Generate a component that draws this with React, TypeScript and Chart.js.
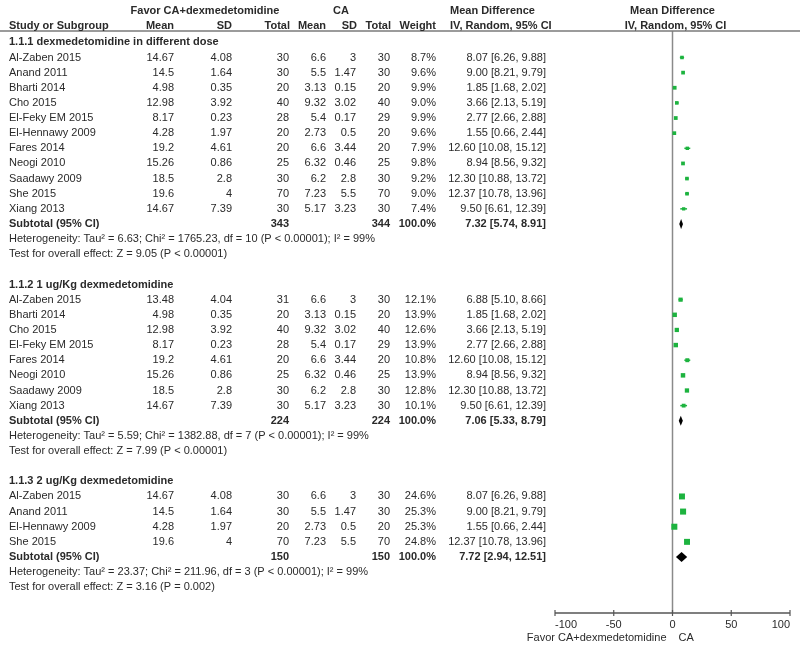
import React, { useEffect, useRef } from "react";
import { Chart, registerables } from "chart.js";

Chart.register(...registerables);

// ---------- data ----------
const groupTitles = [
  "1.1.1 dexmedetomidine in different dose",
  "1.1.2 1 ug/Kg dexmedetomidine",
  "1.1.3 2 ug/Kg dexmedetomidine",
];
const studyGroup = [0, 0, 0, 0, 0, 0, 0, 0, 0, 0, 0, 1, 1, 1, 1, 1, 1, 1, 1, 2, 2, 2, 2];
const studyNames = [
  "Al-Zaben 2015", "Anand 2011", "Bharti 2014", "Cho 2015", "El-Feky EM 2015", "El-Hennawy 2009",
  "Fares 2014", "Neogi 2010", "Saadawy 2009", "She 2015", "Xiang 2013",
  "Al-Zaben 2015", "Bharti 2014", "Cho 2015", "El-Feky EM 2015", "Fares 2014", "Neogi 2010",
  "Saadawy 2009", "Xiang 2013",
  "Al-Zaben 2015", "Anand 2011", "El-Hennawy 2009", "She 2015",
];
const expMean = [14.67, 14.5, 4.98, 12.98, 8.17, 4.28, 19.2, 15.26, 18.5, 19.6, 14.67,
  13.48, 4.98, 12.98, 8.17, 19.2, 15.26, 18.5, 14.67,
  14.67, 14.5, 4.28, 19.6];
const expSD = [4.08, 1.64, 0.35, 3.92, 0.23, 1.97, 4.61, 0.86, 2.8, 4, 7.39,
  4.04, 0.35, 3.92, 0.23, 4.61, 0.86, 2.8, 7.39,
  4.08, 1.64, 1.97, 4];
const expTotal = [30, 30, 20, 40, 28, 20, 20, 25, 30, 70, 30,
  31, 20, 40, 28, 20, 25, 30, 30,
  30, 30, 20, 70];
const ctrlMean = [6.6, 5.5, 3.13, 9.32, 5.4, 2.73, 6.6, 6.32, 6.2, 7.23, 5.17,
  6.6, 3.13, 9.32, 5.4, 6.6, 6.32, 6.2, 5.17,
  6.6, 5.5, 2.73, 7.23];
const ctrlSD = [3, 1.47, 0.15, 3.02, 0.17, 0.5, 3.44, 0.46, 2.8, 5.5, 3.23,
  3, 0.15, 3.02, 0.17, 3.44, 0.46, 2.8, 3.23,
  3, 1.47, 0.5, 5.5];
const ctrlTotal = [30, 30, 20, 40, 29, 20, 20, 25, 30, 70, 30,
  30, 20, 40, 29, 20, 25, 30, 30,
  30, 30, 20, 70];
const weights = [8.7, 9.6, 9.9, 9.0, 9.9, 9.6, 7.9, 9.8, 9.2, 9.0, 7.4,
  12.1, 13.9, 12.6, 13.9, 10.8, 13.9, 12.8, 10.1,
  24.6, 25.3, 25.3, 24.8];
const meanDiff = [8.07, 9.0, 1.85, 3.66, 2.77, 1.55, 12.6, 8.94, 12.3, 12.37, 9.5,
  6.88, 1.85, 3.66, 2.77, 12.6, 8.94, 12.3, 9.5,
  8.07, 9.0, 1.55, 12.37];
const ciLow = [6.26, 8.21, 1.68, 2.13, 2.66, 0.66, 10.08, 8.56, 10.88, 10.78, 6.61,
  5.1, 1.68, 2.13, 2.66, 10.08, 8.56, 10.88, 6.61,
  6.26, 8.21, 0.66, 10.78];
const ciHigh = [9.88, 9.79, 2.02, 5.19, 2.88, 2.44, 15.12, 9.32, 13.72, 13.96, 12.39,
  8.66, 2.02, 5.19, 2.88, 15.12, 9.32, 13.72, 12.39,
  9.88, 9.79, 2.44, 13.96];

const subExpTotal = [343, 224, 150];
const subCtrlTotal = [344, 224, 150];
const subMD = [7.32, 7.06, 7.72];
const subLow = [5.74, 5.33, 2.94];
const subHigh = [8.91, 8.79, 12.51];
const hetTau2 = ["6.63", "5.59", "23.37"];
const hetChi2 = ["1765.23", "1382.88", "211.96"];
const hetDf = [10, 7, 3];
const hetP = ["P < 0.00001", "P < 0.00001", "P < 0.00001"];
const hetI2 = [99, 99, 99];
const zValue = ["9.05", "7.99", "3.16"];
const zP = ["P < 0.00001", "P < 0.00001", "P = 0.002"];

const xTicks = [-100, -50, 0, 50, 100];
const leftLabel = "Favor CA+dexmedetomidine";
const rightLabel = "CA";

// ---------- row layout ----------
const studyRow: number[] = [];
const groupRow: number[] = [];
const subRow: number[] = [];
{
  let r = 0;
  for (let g = 0; g < groupTitles.length; g++) {
    groupRow.push(r);
    r++;
    for (let i = 0; i < studyNames.length; i++) {
      if (studyGroup[i] === g) {
        studyRow[i] = r;
        r++;
      }
    }
    subRow.push(r);
    r += 4;
  }
}

const FONT = '"Liberation Sans", Arial, sans-serif';
const TEXT = "#2a2a2a";
const GREEN = "#1db33f";

const forestPlugin = {
  id: "forest",
  beforeDatasetsDraw(chart: any) {
    const { ctx, chartArea, scales } = chart;
    const xs = scales.x;
    const ys = scales.y;
    ctx.save();
    // zero line
    const x0 = xs.getPixelForValue(0);
    ctx.strokeStyle = "#8a8a8a";
    ctx.lineWidth = 1.5;
    ctx.beginPath();
    ctx.moveTo(x0, chartArea.top);
    ctx.lineTo(x0, chartArea.bottom);
    ctx.stroke();
    // header rule
    ctx.strokeStyle = "#7a7a7a";
    ctx.beginPath();
    ctx.moveTo(0, chartArea.top);
    ctx.lineTo(chart.width, chartArea.top);
    ctx.stroke();
    // bottom axis
    const yb = chartArea.bottom;
    ctx.strokeStyle = "#555";
    ctx.lineWidth = 1.5;
    ctx.beginPath();
    ctx.moveTo(xs.getPixelForValue(xTicks[0]), yb);
    ctx.lineTo(xs.getPixelForValue(xTicks[xTicks.length - 1]), yb);
    ctx.stroke();
    ctx.lineWidth = 1.2;
    xTicks.forEach((t) => {
      const px = xs.getPixelForValue(t);
      ctx.beginPath();
      ctx.moveTo(px, yb - 3);
      ctx.lineTo(px, yb + 3);
      ctx.stroke();
    });
    // CI whiskers
    ctx.strokeStyle = GREEN;
    ctx.lineWidth = 1.5;
    for (let i = 0; i < studyNames.length; i++) {
      const y = ys.getPixelForValue(studyRow[i]);
      ctx.beginPath();
      ctx.moveTo(xs.getPixelForValue(ciLow[i]), y);
      ctx.lineTo(xs.getPixelForValue(ciHigh[i]), y);
      ctx.stroke();
    }
    ctx.restore();
  },
  afterDatasetsDraw(chart: any) {
    const { ctx, chartArea, scales } = chart;
    const xs = scales.x;
    const ys = scales.y;
    ctx.save();
    // diamonds
    ctx.fillStyle = "#000";
    for (let g = 0; g < groupTitles.length; g++) {
      const y = ys.getPixelForValue(subRow[g]);
      ctx.beginPath();
      ctx.moveTo(xs.getPixelForValue(subLow[g]), y);
      ctx.lineTo(xs.getPixelForValue(subMD[g]), y - 5);
      ctx.lineTo(xs.getPixelForValue(subHigh[g]), y);
      ctx.lineTo(xs.getPixelForValue(subMD[g]), y + 5);
      ctx.closePath();
      ctx.fill();
    }

    const normal = `11px ${FONT}`;
    const bold = `bold 11px ${FONT}`;
    ctx.fillStyle = TEXT;
    ctx.textBaseline = "middle";
    const txt = (s: string, x: number, y: number, align: CanvasTextAlign, b = false) => {
      ctx.font = b ? bold : normal;
      ctx.textAlign = align;
      ctx.fillText(s, x, y);
    };
    const x0 = xs.getPixelForValue(0);

    // headers
    const yH1 = ys.getPixelForValue(-2.07);
    const yH2 = ys.getPixelForValue(-1.1);
    txt("Favor CA+dexmedetomidine", 205, yH1, "center", true);
    txt("CA", 341, yH1, "center", true);
    txt("Mean Difference", 450, yH1, "left", true);
    txt("Mean Difference", x0, yH1, "center", true);
    txt("Study or Subgroup", 9, yH2, "left", true);
    txt("Mean", 174, yH2, "right", true);
    txt("SD", 232, yH2, "right", true);
    txt("Total", 290, yH2, "right", true);
    txt("Mean", 326, yH2, "right", true);
    txt("SD", 357, yH2, "right", true);
    txt("Total", 391, yH2, "right", true);
    txt("Weight", 436, yH2, "right", true);
    txt("IV, Random, 95% CI", 450, yH2, "left", true);
    txt("IV, Random, 95% CI", x0 + 3, yH2, "center", true);

    // studies
    for (let i = 0; i < studyNames.length; i++) {
      const y = ys.getPixelForValue(studyRow[i]);
      txt(studyNames[i], 9, y, "left");
      txt(String(expMean[i]), 174, y, "right");
      txt(String(expSD[i]), 232, y, "right");
      txt(String(expTotal[i]), 289, y, "right");
      txt(String(ctrlMean[i]), 326, y, "right");
      txt(String(ctrlSD[i]), 356, y, "right");
      txt(String(ctrlTotal[i]), 390, y, "right");
      txt(weights[i].toFixed(1) + "%", 436, y, "right");
      txt(`${meanDiff[i].toFixed(2)} [${ciLow[i].toFixed(2)}, ${ciHigh[i].toFixed(2)}]`, 546, y, "right");
    }
    // groups
    for (let g = 0; g < groupTitles.length; g++) {
      txt(groupTitles[g], 9, ys.getPixelForValue(groupRow[g]), "left", true);
      const y = ys.getPixelForValue(subRow[g]);
      txt("Subtotal (95% CI)", 9, y, "left", true);
      txt(String(subExpTotal[g]), 289, y, "right", true);
      txt(String(subCtrlTotal[g]), 390, y, "right", true);
      txt("100.0%", 436, y, "right", true);
      txt(`${subMD[g].toFixed(2)} [${subLow[g].toFixed(2)}, ${subHigh[g].toFixed(2)}]`, 546, y, "right", true);
      txt(
        `Heterogeneity: Tau\u00b2 = ${hetTau2[g]}; Chi\u00b2 = ${hetChi2[g]}, df = ${hetDf[g]} (${hetP[g]}); I\u00b2 = ${hetI2[g]}%`,
        9, ys.getPixelForValue(subRow[g] + 1), "left"
      );
      txt(`Test for overall effect: Z = ${zValue[g]} (${zP[g]})`, 9, ys.getPixelForValue(subRow[g] + 2), "left");
    }

    // axis tick labels
    const yt = chartArea.bottom + 12;
    xTicks.forEach((t, k) => {
      const align: CanvasTextAlign = k === 0 ? "left" : k === xTicks.length - 1 ? "right" : "center";
      txt(String(t), xs.getPixelForValue(t), yt, align);
    });
    const yl = chartArea.bottom + 25;
    txt(leftLabel, x0 - 6, yl, "right");
    txt(rightLabel, x0 + 6, yl, "left");
    ctx.restore();
  },
};

export default function App() {
  const ref = useRef<HTMLCanvasElement | null>(null);
  useEffect(() => {
    document.body.style.margin = "0";
    const canvas = ref.current;
    if (!canvas) return;
    const points = studyNames.map((_, i) => ({ x: meanDiff[i], y: studyRow[i] }));
    const radii = weights.map((w) => 6 * Math.sqrt(w / 25) * Math.SQRT1_2);
    const chart = new Chart(canvas, {
      type: "scatter",
      data: {
        datasets: [
          {
            label: "Studies",
            data: points,
            pointStyle: "rect",
            pointRadius: radii,
            pointBackgroundColor: GREEN,
            pointBorderWidth: 0,
            pointBorderColor: GREEN,
            showLine: false,
          } as any,
        ],
      },
      options: {
        animation: false,
        responsive: false,
        maintainAspectRatio: false,
        layout: { padding: { left: 555, right: 10, top: 31, bottom: 34 } },
        plugins: { legend: { display: false }, tooltip: { enabled: false } },
        scales: {
          x: { type: "linear", min: -100, max: 100, display: false },
          y: { type: "linear", min: -0.75, max: 37.7, reverse: true, display: false },
        },
      },
      plugins: [forestPlugin],
    });
    return () => chart.destroy();
  }, []);
  return (
    <div style={{ width: 800, height: 647, background: "#fff" }}>
      <canvas ref={ref} width={800} height={647} style={{ display: "block" }} />
    </div>
  );
}
